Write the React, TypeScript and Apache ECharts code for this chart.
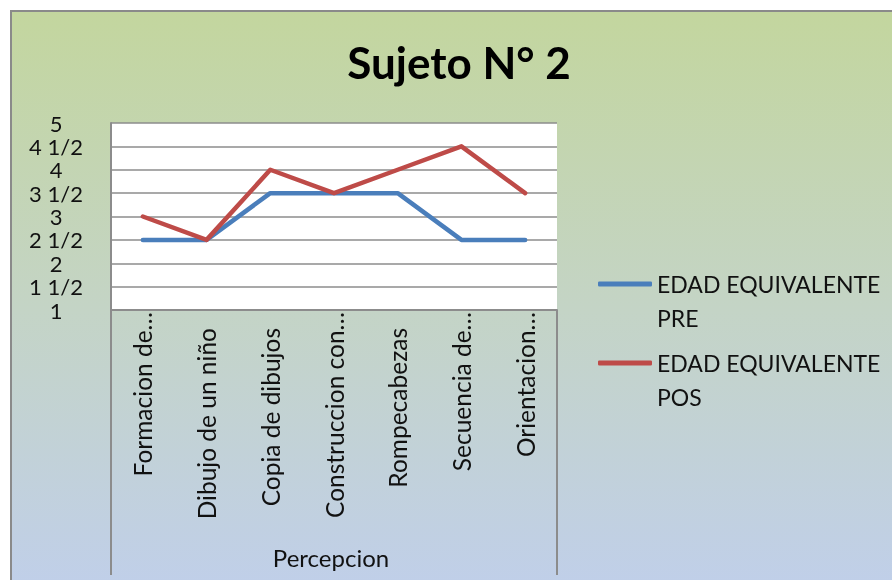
import React, { useEffect, useRef } from "react";
import * as echarts from "echarts";

const title = "Sujeto N° 2";
const groupLabel = "Percepcion";
const categories = [
  "Formacion de…",
  "Dibujo de un niño",
  "Copia de dibujos",
  "Construccion con…",
  "Rompecabezas",
  "Secuencia de…",
  "Orientacion…",
];
const truncated = [true, false, false, true, false, true, true];
const preName = "EDAD EQUIVALENTE PRE";
const posName = "EDAD EQUIVALENTE POS";
const preValues = [2.5, 2.5, 3.5, 3.5, 3.5, 2.5, 2.5];
const posValues = [3, 2.5, 4, 3.5, 4, 4.5, 3.5];
const yMin = 1;
const yMax = 5;
const yStep = 0.5;

const FONT = "Lato, 'Open Sans', sans-serif";

export default function App() {
  const ref = useRef<HTMLDivElement>(null);
  useEffect(() => {
    if (!ref.current) return;
    const chart = echarts.init(ref.current, null, { renderer: "svg" });
    const W = 892;
    const H = 580;
    const gridLeft = 111;
    const gridRight = 557;
    const gridTop = 123;
    const gridBottom = 310;
    const LH = 34;
    const legendCommon = {
      orient: "vertical",
      left: 598,
      padding: 0,
      itemWidth: 54,
      itemHeight: 5,
      icon: "roundRect",
      formatter: (name: string) => {
        const i = name.lastIndexOf(" ");
        return " \n" + name.slice(0, i) + "\n" + name.slice(i + 1);
      },
      textStyle: {
        fontFamily: FONT,
        fontSize: 23,
        color: "#111",
        lineHeight: LH,
      },
    };
    chart.setOption({
      animation: false,
      textStyle: { fontFamily: FONT },
      graphic: [
        {
          type: "rect",
          z: -10,
          silent: true,
          shape: { x: 11, y: 11, width: W + 20, height: H + 20 },
          style: {
            fill: new echarts.graphic.LinearGradient(0, 0, 0, 1, [
              { offset: 0, color: "#c3d69e" },
              { offset: 0.5, color: "#c4d4c6" },
              { offset: 0.97, color: "#c0cfea" },
              { offset: 1, color: "#cbd7f0" },
            ]),
            stroke: "#8a8a8a",
            lineWidth: 2,
          },
        },
        {
          type: "line",
          silent: true,
          shape: { x1: gridLeft, y1: gridBottom, x2: gridLeft, y2: 575 },
          style: { stroke: "#8c8c8c", lineWidth: 2 },
        },
        {
          type: "line",
          silent: true,
          shape: { x1: gridRight, y1: gridBottom, x2: gridRight, y2: 575 },
          style: { stroke: "#8c8c8c", lineWidth: 2 },
        },
        {
          type: "text",
          silent: true,
          x: (gridLeft + gridRight) / 2 - 3,
          y: 557,
          style: {
            text: groupLabel,
            fill: "#111",
            font: `24px ${FONT}`,
            align: "center",
            verticalAlign: "middle",
          },
        },
      ],
      title: {
        text: title,
        left: 454,
        top: 35,
        textAlign: "center",
        textStyle: {
          fontFamily: FONT,
          fontSize: 44,
          fontWeight: "bold",
          color: "#000",
        },
      },
      legend: [
        { ...legendCommon, top: 284 - 1.5 * LH, data: [preName] },
        { ...legendCommon, top: 363 - 1.5 * LH, data: [posName] },
      ],
      grid: {
        left: gridLeft,
        top: gridTop,
        width: gridRight - gridLeft,
        height: gridBottom - gridTop,
        show: true,
        backgroundColor: "#ffffff",
        borderWidth: 0,
        containLabel: false,
      },
      xAxis: {
        type: "category",
        data: categories.map((c, i) => ({
          value: c,
          textStyle: truncated[i] ? {} : { padding: [0, 16, 0, 0] },
        })),
        boundaryGap: true,
        axisLine: { show: true, lineStyle: { color: "#8c8c8c", width: 2 } },
        axisTick: { show: false },
        axisLabel: {
          interval: 0,
          rotate: 90,
          margin: 2,
          fontFamily: FONT,
          fontSize: 24.5,
          color: "#111",
        },
      },
      yAxis: {
        type: "value",
        min: yMin,
        max: yMax,
        interval: yStep,
        axisLine: { show: true, lineStyle: { color: "#8c8c8c", width: 2 } },
        axisTick: { show: false },
        splitLine: { lineStyle: { color: "#8c8c8c", width: 1.5 } },
        axisLabel: {
          align: "center",
          margin: 55,
          fontFamily: FONT,
          fontSize: 22,
          lineHeight: 18,
          color: "#111",
          formatter: (v: number) =>
            Number.isInteger(v) ? String(v) : `${Math.floor(v)} 1/2`,
        },
      },
      series: [
        {
          name: preName,
          type: "line",
          data: preValues,
          symbol: "none",
          lineStyle: { width: 4.5, color: "#4a7ebb", cap: "round", join: "round" },
          itemStyle: { color: "#4a7ebb" },
        },
        {
          name: posName,
          type: "line",
          data: posValues,
          symbol: "none",
          lineStyle: { width: 4.5, color: "#be4b48", cap: "round", join: "round" },
          itemStyle: { color: "#be4b48" },
        },
      ],
    });
    return () => chart.dispose();
  }, []);
  return (
    <div
      ref={ref}
      style={{ position: "fixed", left: 0, top: 0, width: 892, height: 580 }}
    />
  );
}
